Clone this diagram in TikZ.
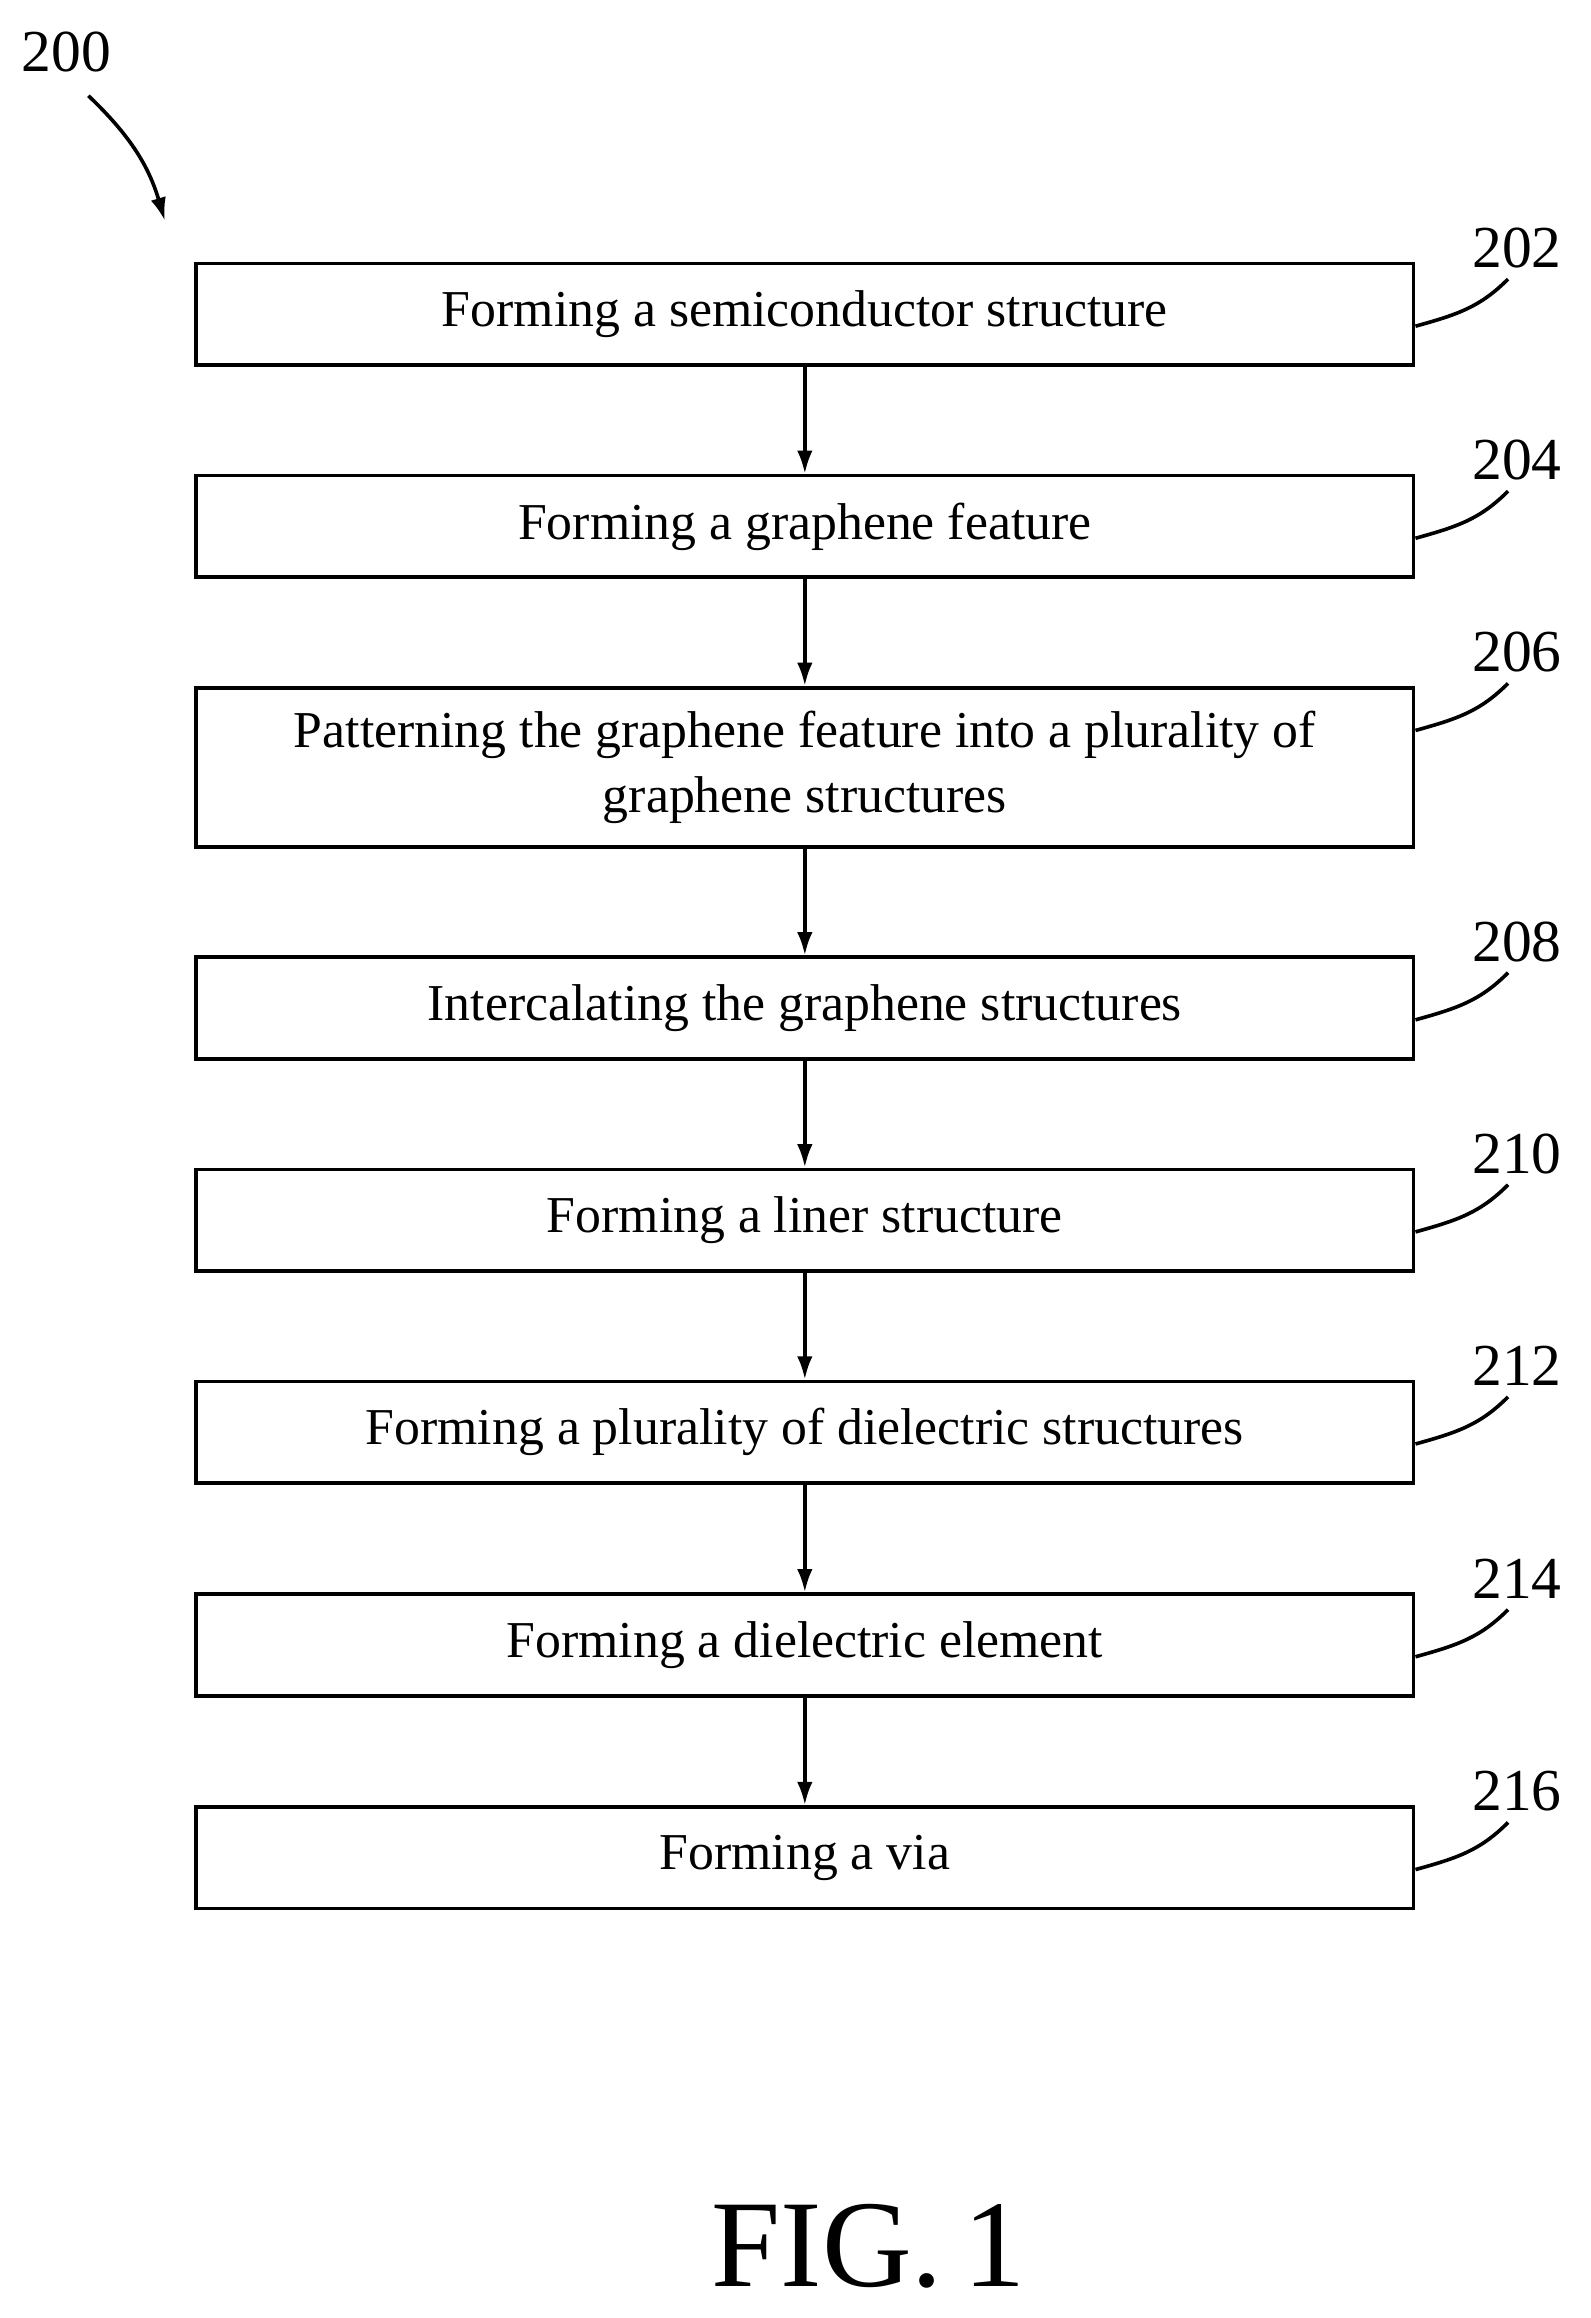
\documentclass[tikz,border=0pt]{standalone}
\usepackage{fontspec}
\setmainfont{Liberation Serif}
\usetikzlibrary{positioning,arrows.meta}
\begin{document}
\begin{tikzpicture}[x=0.02cm,y=-0.02cm,
    stepbox/.style={draw,line width=1.4pt,minimum width=16.54cm,minimum height=1.38cm,align=center,inner sep=0pt,font=\fontsize{20}{25}\selectfont},
    tag/.style={font=\fontsize{23}{25}\selectfont},
    flow/.style={-{Latex[length=9pt,width=6pt]},line width=1.4pt}]
\useasboundingbox (0,0) rectangle (1080,1574);
\node[tag] (n200) at (45,35) {200};
\coordinate (p200) at (112,150);
\draw[flow] (60,65) to[bend left=15] (p200);
% steps
\node[stepbox] (s202) at (546.5,213.5) {Forming a semiconductor structure};
\node[stepbox] (s204) at (546.5,357.5) {Forming a graphene feature};
\node[stepbox,minimum height=2.16cm] (s206) at (546.5,521) {Patterning the graphene feature into a plurality of\\graphene structures};
\node[stepbox] (s208) at (546.5,684.5) {Intercalating the graphene structures};
\node[stepbox] (s210) at (546.5,828.5) {Forming a liner structure};
\node[stepbox] (s212) at (546.5,972.5) {Forming a plurality of dielectric structures};
\node[stepbox] (s214) at (546.5,1117) {Forming a dielectric element};
\node[stepbox] (s216) at (546.5,1261.5) {Forming a via};
% reference numerals
\foreach \s/\y in {202/213.5,204/357.5,206/488,208/684.5,210/828.5,212/972.5,214/1117,216/1261.5}{
  \node[tag] (t\s) at (1030,\y-45) {\s};
  \draw[line width=1.4pt] (s\s.east |- 0,\y+8) .. controls (990,\y) and (1005,\y-5) .. (1024,\y-24);
}
\foreach \a/\b in {202/204,204/206,206/208,208/210,210/212,212/214,214/216}
  \draw[flow] (s\a) -- (s\b);
\node[font=\fontsize{48}{50}\selectfont] (fig) at (590,1525) {FIG.\,1};
\end{tikzpicture}
\end{document}
